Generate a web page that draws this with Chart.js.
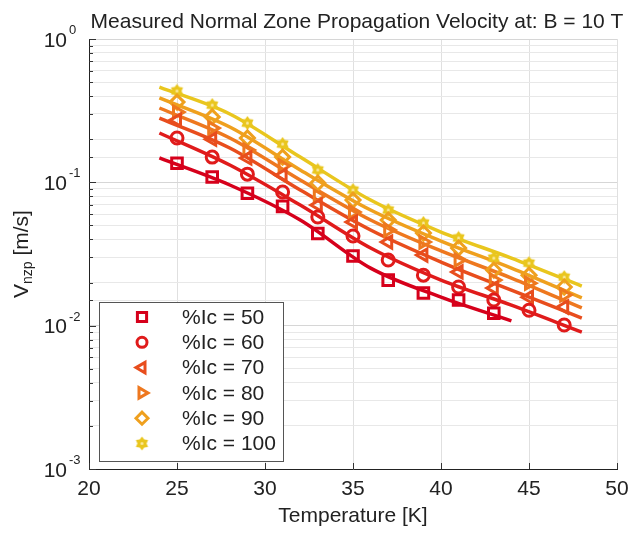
<!DOCTYPE html>
<html>
<head>
<meta charset="utf-8">
<script src="https://cdn.jsdelivr.net/npm/chart.js@4"></script>
<style>
  html, body { margin: 0; padding: 0; background: #fff; }
  #wrap { width: 631px; height: 533px; }
</style>
</head>
<body>
<div id="wrap"><canvas id="nzp-chart" width="631" height="533"></canvas></div>
<script>
// measured points (temperature in K, velocity in m/s)
const temps = [25, 27, 29, 31, 33, 35, 37, 39, 41, 43, 45, 47];
const ic50 = [0.136, 0.109, 0.084, 0.068, 0.044, 0.0306, 0.0208, 0.0169, 0.0151, 0.0122];
const ic60 = [0.204, 0.150, 0.114, 0.0856, 0.0573, 0.0422, 0.0287, 0.0225, 0.0186, 0.0151, 0.0128, 0.0101];
const ic70 = [0.272, 0.200, 0.148, 0.112, 0.0694, 0.0528, 0.0383, 0.0311, 0.0237, 0.0183, 0.0158, 0.0135];
const ic80 = [0.309, 0.239, 0.168, 0.130, 0.0802, 0.0621, 0.0465, 0.0383, 0.0287, 0.0208, 0.0198, 0.0164];
const ic90 = [0.363, 0.286, 0.204, 0.150, 0.0989, 0.0752, 0.0546, 0.0443, 0.0348, 0.0244, 0.0225, 0.0186];
const ic100 = [0.434, 0.346, 0.259, 0.185, 0.122, 0.0883, 0.0641, 0.052, 0.0409, 0.0296, 0.0273, 0.0218];

// fitted curves
const fitTemps = [24, 28, 32, 36, 40, 44, 48];
const fit50 = [0.148, 0.0958, 0.0546, 0.0252, 0.0158, 0.0108];
const fit60 = [0.221, 0.132, 0.0694, 0.0348, 0.0208, 0.0139, 0.00902];
const fit70 = [0.281, 0.1735, 0.0883, 0.0465, 0.0278, 0.0177, 0.0113];
const fit80 = [0.330, 0.204, 0.1038, 0.0546, 0.0332, 0.0215, 0.0133];
const fit90 = [0.388, 0.243, 0.122, 0.0641, 0.0389, 0.0252, 0.0156];
const fit100 = [0.462, 0.300, 0.150, 0.0752, 0.0450, 0.0296, 0.0189];

const seriesLabels = ['%Ic = 50', '%Ic = 60', '%Ic = 70', '%Ic = 80', '%Ic = 90', '%Ic = 100'];
const xTicks = [20, 25, 30, 35, 40, 45, 50];
const yDecades = [0, -1, -2, -3];

const colors = ['#d6001b', '#e01b1b', '#e84d1d', '#ee781f', '#efa01e', '#e9c61e'];

// little filled six point star for the 100% series
function makeStar(color) {
  const c = document.createElement('canvas');
  c.width = 15; c.height = 15;
  const g = c.getContext('2d');
  g.beginPath();
  for (let i = 0; i < 12; i++) {
    const r = i % 2 === 0 ? 7 : 4.6;
    const a = -Math.PI / 2 + i * Math.PI / 6;
    g.lineTo(7.5 + r * Math.cos(a), 7.5 + r * Math.sin(a));
  }
  g.closePath();
  g.fillStyle = color;
  g.fill();
  g.beginPath();
  g.arc(7.5, 7.5, 1.5, 0, Math.PI * 2);
  g.fillStyle = '#fbeaa0';
  g.fill();
  return c;
}

const markerStyles = [
  { pointStyle: 'rect', radius: 7.5, rotation: 0 },
  { pointStyle: 'circle', radius: 6, rotation: 0 },
  { pointStyle: 'triangle', radius: 7, rotation: -90 },
  { pointStyle: 'triangle', radius: 7, rotation: 90 },
  { pointStyle: 'rectRot', radius: 7, rotation: 0 },
  { pointStyle: makeStar(colors[5]), radius: 7, rotation: 0 }
];

const measured = [ic50, ic60, ic70, ic80, ic90, ic100];
const fits = [fit50, fit60, fit70, fit80, fit90, fit100];

const datasets = [];
measured.forEach((vals, i) => {
  datasets.push({
    label: seriesLabels[i],
    data: vals.map((v, k) => ({ x: temps[k], y: v })),
    showLine: false,
    borderColor: colors[i],
    backgroundColor: 'rgba(0,0,0,0)',
    pointStyle: markerStyles[i].pointStyle,
    pointRadius: markerStyles[i].radius,
    pointRotation: markerStyles[i].rotation,
    pointBorderWidth: 3,
    order: 0
  });
});
fits.forEach((vals, i) => {
  datasets.push({
    label: 'fit ' + seriesLabels[i],
    data: vals.map((v, k) => ({ x: fitTemps[k], y: v })),
    borderColor: colors[i],
    borderWidth: 3.5,
    pointRadius: 0,
    cubicInterpolationMode: 'monotone',
    order: 1
  });
});

const FONT = 'Liberation Sans, Arial, sans-serif';

/* Title, y labels with exponents, inward ticks and the boxed legend */
const decorations = {
  id: 'decorations',
  afterDraw(chart) {
    const { ctx, chartArea } = chart;
    const yScale = chart.scales.y;
    const xScale = chart.scales.x;
    ctx.save();

    // title
    ctx.fillStyle = '#222';
    ctx.font = '21px ' + FONT;
    ctx.textAlign = 'center';
    ctx.textBaseline = 'alphabetic';
    ctx.fillText('Measured Normal Zone Propagation Velocity at: B = 10 T', 357, 28);

    // y tick labels 10^n
    yDecades.forEach(e => {
      const py = yScale.getPixelForValue(Math.pow(10, e));
      ctx.font = '21px ' + FONT;
      ctx.textAlign = 'right';
      ctx.textBaseline = 'middle';
      ctx.fillText('10', 67, py + 2);
      ctx.font = '13px ' + FONT;
      ctx.textAlign = 'left';
      ctx.textBaseline = 'alphabetic';
      ctx.fillText(e === 0 ? '0' : '-' + (-e), 69, py - 5);
    });

    // y axis title with subscript
    ctx.translate(22, (chartArea.top + chartArea.bottom) / 2);
    ctx.rotate(-Math.PI / 2);
    ctx.textBaseline = 'middle';
    ctx.font = '21px ' + FONT;
    const w1 = ctx.measureText('V').width;
    ctx.font = '14px ' + FONT;
    const w2 = ctx.measureText('nzp').width;
    ctx.font = '21px ' + FONT;
    const w3 = ctx.measureText(' [m/s]').width;
    let tx = -(w1 + w2 + w3) / 2;
    ctx.textAlign = 'left';
    ctx.fillText('V', tx, 0);
    tx += w1;
    ctx.font = '14px ' + FONT;
    ctx.fillText('nzp', tx, 6);
    tx += w2;
    ctx.font = '21px ' + FONT;
    ctx.fillText(' [m/s]', tx, 0);
    ctx.setTransform(1, 0, 0, 1, 0, 0);

    // inward ticks
    ctx.strokeStyle = '#333';
    ctx.lineWidth = 1;
    ctx.beginPath();
    yScale.ticks.forEach(t => {
      const py = Math.round(yScale.getPixelForValue(t.value)) + 0.5;
      const major = Math.abs(Math.log10(t.value) - Math.round(Math.log10(t.value))) < 1e-6;
      ctx.moveTo(chartArea.left, py);
      ctx.lineTo(chartArea.left + (major ? 7 : 4), py);
    });
    xTicks.forEach(v => {
      const px = Math.round(xScale.getPixelForValue(v)) + 0.5;
      ctx.moveTo(px, chartArea.bottom);
      ctx.lineTo(px, chartArea.bottom - 6);
    });
    ctx.stroke();

    // legend box
    const bx = 99.5, by = 302.5, bw = 184, bh = 159;
    ctx.fillStyle = '#fff';
    ctx.fillRect(bx, by, bw, bh);
    ctx.strokeStyle = '#555';
    ctx.strokeRect(bx, by, bw, bh);
    ctx.font = '21px ' + FONT;
    ctx.textAlign = 'left';
    ctx.textBaseline = 'middle';
    seriesLabels.forEach((lab, i) => {
      const ry = 317 + i * 25.3;
      ctx.strokeStyle = colors[i];
      ctx.fillStyle = 'rgba(0,0,0,0)';
      ctx.lineWidth = 3;
      Chart.helpers.drawPoint(ctx, {
        pointStyle: markerStyles[i].pointStyle,
        radius: markerStyles[i].radius - 1,
        rotation: markerStyles[i].rotation,
        borderWidth: 3
      }, 142, ry);
      ctx.fillStyle = '#222';
      ctx.fillText(lab, 182, ry + 1);
    });
    ctx.restore();
  }
};

new Chart(document.getElementById('nzp-chart'), {
  type: 'line',
  data: { datasets },
  options: {
    responsive: false,
    animation: false,
    layout: { padding: { left: 0, right: 14, top: 39, bottom: 0 } },
    plugins: {
      legend: { display: false },
      tooltip: { enabled: false }
    },
    scales: {
      x: {
        type: 'linear',
        min: 20,
        max: 50,
        afterFit(scale) {
          scale.height = 64;
          scale.paddingLeft = 0;
          scale.paddingRight = 0;
        },
        afterBuildTicks(scale) { scale.ticks = xTicks.map(v => ({ value: v })); },
        grid: { color: '#e0e0e0', drawTicks: false },
        border: { color: '#222', width: 1 },
        ticks: {
          color: '#222',
          padding: 8,
          font: { family: FONT, size: 21 }
        },
        title: {
          display: true,
          text: 'Temperature [K]',
          color: '#222',
          padding: { top: 0, bottom: 4 },
          font: { family: FONT, size: 21 }
        }
      },
      y: {
        type: 'logarithmic',
        min: 0.001,
        max: 1,
        afterFit(scale) { scale.width = 89; },
        grid: {
          drawTicks: false,
          color: ctx => {
            const v = ctx.tick ? ctx.tick.value : 1;
            const l = Math.log10(v);
            return Math.abs(l - Math.round(l)) < 1e-6 ? '#d6d6d6' : '#e8e8e8';
          }
        },
        border: { color: '#222', width: 1 },
        ticks: { display: false }
      }
    }
  },
  plugins: [decorations]
});
</script>
</body>
</html>
